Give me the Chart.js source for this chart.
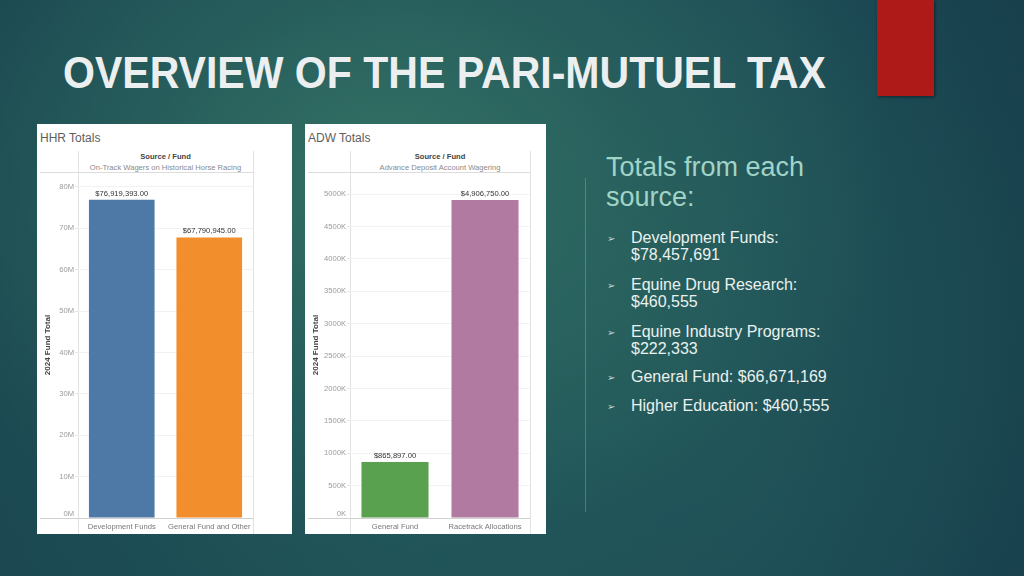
<!DOCTYPE html>
<html>
<head>
<meta charset="utf-8">
<script src="https://cdn.jsdelivr.net/npm/chart.js@4.4.0/dist/chart.umd.min.js"></script>
<style>
html,body{margin:0;padding:0;}
body{width:1024px;height:576px;overflow:hidden;position:relative;font-family:'Liberation Sans',Arial,sans-serif;
  background:
    radial-gradient(ellipse 520px 380px at 380px 170px, rgba(58,122,104,0.75) 0%, rgba(50,112,100,0.45) 45%, rgba(40,95,92,0) 100%),
    radial-gradient(ellipse 700px 500px at 560px 330px, rgba(40,100,95,0.6) 0%, rgba(40,100,95,0) 100%),
    linear-gradient(90deg, #1a4650 0%, #1d4e56 40%, #1b4854 75%, #163d4b 100%);
}
.abs{position:absolute;}
#red{left:877px;top:0;width:57px;height:96px;background:#ad1a17;box-shadow:1px 1px 3px rgba(0,0,0,0.45);}
#title{left:63px;top:51px;font-weight:bold;font-size:44px;line-height:44px;color:#eceff0;white-space:nowrap;transform-origin:0 0;}
.panel{position:absolute;background:#fff;top:124px;height:410px;}
.ptitle{position:absolute;left:3px;top:8px;font-family:'Liberation Sans',sans-serif;font-size:12px;line-height:12px;color:#5e5e5e;white-space:nowrap;}
.hdr1{position:absolute;top:28.5px;font-family:'Liberation Sans',sans-serif;font-weight:bold;font-size:7.6px;line-height:8px;color:#444;white-space:nowrap;transform:translateX(-50%);}
.hdr2{position:absolute;top:39.5px;font-family:'Liberation Sans',sans-serif;font-size:7.6px;line-height:8px;color:#8a8a8a;white-space:nowrap;transform:translateX(-50%);}
.hl{position:absolute;height:1px;background:#dcdcdc;}
.vl{position:absolute;width:1px;background:#e2e2e2;top:27px;height:383px;}
canvas{position:absolute;left:0;top:26px;}
#sep{left:585px;top:178px;width:1px;height:334px;background:rgba(190,225,215,0.28);}
#sub{left:606px;top:152px;font-size:27px;line-height:30px;color:#a2d3c7;white-space:nowrap;}
.bl{position:absolute;left:631px;font-size:16px;line-height:17.5px;color:#eaf1ef;white-space:nowrap;}
.ar{position:absolute;left:607px;font-family:'DejaVu Sans',sans-serif;font-size:10px;line-height:10px;color:#c8d6d2;}
</style>
</head>
<body>
<div id="red" class="abs"></div>
<div id="title" class="abs">OVERVIEW OF THE PARI-MUTUEL TAX</div>

<div class="panel" id="p1" style="left:37px;width:255px;">
  <div class="ptitle">HHR Totals</div>
  <div class="vl" style="left:41px;"></div>
  <div class="vl" style="left:216px;"></div>
  <div class="hl" style="left:3px;width:213px;top:48px;"></div>
  <div class="hl" style="left:3px;width:213px;top:394px;background:#d0d0d0;"></div>
  <div class="hdr1" style="left:128.5px;">Source / Fund</div>
  <div class="hdr2" style="left:128.5px;">On-Track Wagers on Historical Horse Racing</div>
  <canvas id="c1" width="255" height="384"></canvas>
</div>

<div class="panel" id="p2" style="left:305px;width:241px;">
  <div class="ptitle">ADW Totals</div>
  <div class="vl" style="left:45px;"></div>
  <div class="vl" style="left:225px;"></div>
  <div class="hl" style="left:3px;width:222px;top:48px;"></div>
  <div class="hl" style="left:3px;width:222px;top:394px;background:#d0d0d0;"></div>
  <div class="hdr1" style="left:135px;">Source / Fund</div>
  <div class="hdr2" style="left:135px;">Advance Deposit Account Wagering</div>
  <canvas id="c2" width="241" height="384"></canvas>
</div>

<div id="sep" class="abs"></div>
<div id="sub" class="abs">Totals from each<br>source:</div>

<div class="ar" style="top:234px;">➢</div>
<div class="bl" style="top:228.7px;">Development Funds:<br>$78,457,691</div>
<div class="ar" style="top:281px;">➢</div>
<div class="bl" style="top:275.7px;">Equine Drug Research:<br>$460,555</div>
<div class="ar" style="top:328px;">➢</div>
<div class="bl" style="top:322.7px;">Equine Industry Programs:<br>$222,333</div>
<div class="ar" style="top:373px;">➢</div>
<div class="bl" style="top:367.7px;">General Fund: $66,671,169</div>
<div class="ar" style="top:402px;">➢</div>
<div class="bl" style="top:396.7px;">Higher Education: $460,555</div>

<script>
// ---- data ----
const hhrCategories = ['Development Funds', 'General Fund and Other'];
const hhrValues = [76919393, 67790945];
const hhrColors = ['#4e79a7', '#f28e2b'];
const hhrTickValues = [0, 10000000, 20000000, 30000000, 40000000, 50000000, 60000000, 70000000, 80000000];
const hhrTickLabels = ['0M', '10M', '20M', '30M', '40M', '50M', '60M', '70M', '80M'];

const adwCategories = ['General Fund', 'Racetrack Allocations'];
const adwValues = [865897, 4906750];
const adwColors = ['#59a14f', '#b07aa1'];
const adwTickValues = [0, 500000, 1000000, 1500000, 2000000, 2500000, 3000000, 3500000, 4000000, 4500000, 5000000];
const adwTickLabels = ['0K', '500K', '1000K', '1500K', '2000K', '2500K', '3000K', '3500K', '4000K', '4500K', '5000K'];

const FONT = "'Liberation Sans', Arial, sans-serif";
const SMALL = 7.6;

function fmtMoney(v) {
  return '$' + v.toLocaleString('en-US', {minimumFractionDigits: 2, maximumFractionDigits: 2});
}

const valueLabels = {
  id: 'valueLabels',
  afterDatasetsDraw(chart) {
    const ctx = chart.ctx;
    const meta = chart.getDatasetMeta(0);
    const data = chart.data.datasets[0].data;
    ctx.save();
    ctx.font = SMALL + 'px ' + FONT;
    ctx.fillStyle = '#333';
    ctx.textAlign = 'center';
    ctx.textBaseline = 'alphabetic';
    meta.data.forEach((bar, i) => ctx.fillText(fmtMoney(data[i]), bar.x, bar.y - 4));
    ctx.restore();
  }
};

// the zero tick label sits a little above the zero line, as in the reference
const zeroLabel = {
  id: 'zeroLabel',
  afterDraw(chart) {
    const y = chart.scales.y;
    const lbl = chart.options.plugins.zeroLabel.text;
    const ctx = chart.ctx;
    ctx.save();
    ctx.font = SMALL + 'px ' + FONT;
    ctx.fillStyle = '#9a9a9a';
    ctx.textAlign = 'right';
    ctx.textBaseline = 'middle';
    ctx.fillText(lbl, y.right - 4, y.getPixelForValue(0) - 4.5);
    ctx.restore();
  }
};

function makeChart(id, cats, vals, colors, tickVals, tickLabels, yMax, axisW, padRight, barPct) {
  return new Chart(document.getElementById(id), {
    type: 'bar',
    data: {labels: cats, datasets: [{data: vals, backgroundColor: colors, barPercentage: barPct, categoryPercentage: 1}]},
    options: {
      responsive: false,
      animation: false,
      layout: {padding: {left: 0, right: padRight, top: 22, bottom: 0}},
      plugins: {legend: {display: false}, tooltip: {enabled: false}, title: {display: false}, zeroLabel: {text: tickLabels[0]}},
      scales: {
        x: {
          grid: {display: false, drawTicks: false},
          border: {display: false},
          ticks: {color: '#777', font: {family: FONT, size: SMALL}, padding: 4.5, maxRotation: 0, autoSkip: false},
          afterFit(s) { s.height = 16; }
        },
        y: {
          min: 0,
          max: yMax,
          grid: {color: (c) => c.tick && c.tick.value === 0 ? 'rgba(0,0,0,0)' : '#f2f2f2', tickLength: 3, drawTicks: true, tickColor: (c) => c.tick && c.tick.value === 0 ? 'rgba(0,0,0,0)' : '#e4e4e4'},
          border: {display: false},
          afterBuildTicks(s) { s.ticks = tickVals.map(v => ({value: v})); },
          ticks: {callback: (v, i) => (i === 0 ? '' : tickLabels[i]), color: '#9a9a9a', font: {family: FONT, size: SMALL}, padding: 1},
          title: {display: true, text: '2024 Fund Total', color: '#444', font: {family: FONT, size: 8, weight: 'bold'}, padding: {top: 5.5, bottom: 0}},
          afterFit(s) { s.width = axisW; }
        }
      }
    },
    plugins: [valueLabels, zeroLabel]
  });
}

makeChart('c1', hhrCategories, hhrValues, hhrColors, hhrTickValues, hhrTickLabels, 83600000, 41, 39, 0.75);
makeChart('c2', adwCategories, adwValues, adwColors, adwTickValues, adwTickLabels, 5340000, 45, 16, 0.745);

// fit title to reference width
(function(){
  const t = document.getElementById('title');
  const w = t.getBoundingClientRect().width;
  t.style.transform = 'scaleX(' + (763 / w) + ')';
})();
</script>
</body>
</html>
